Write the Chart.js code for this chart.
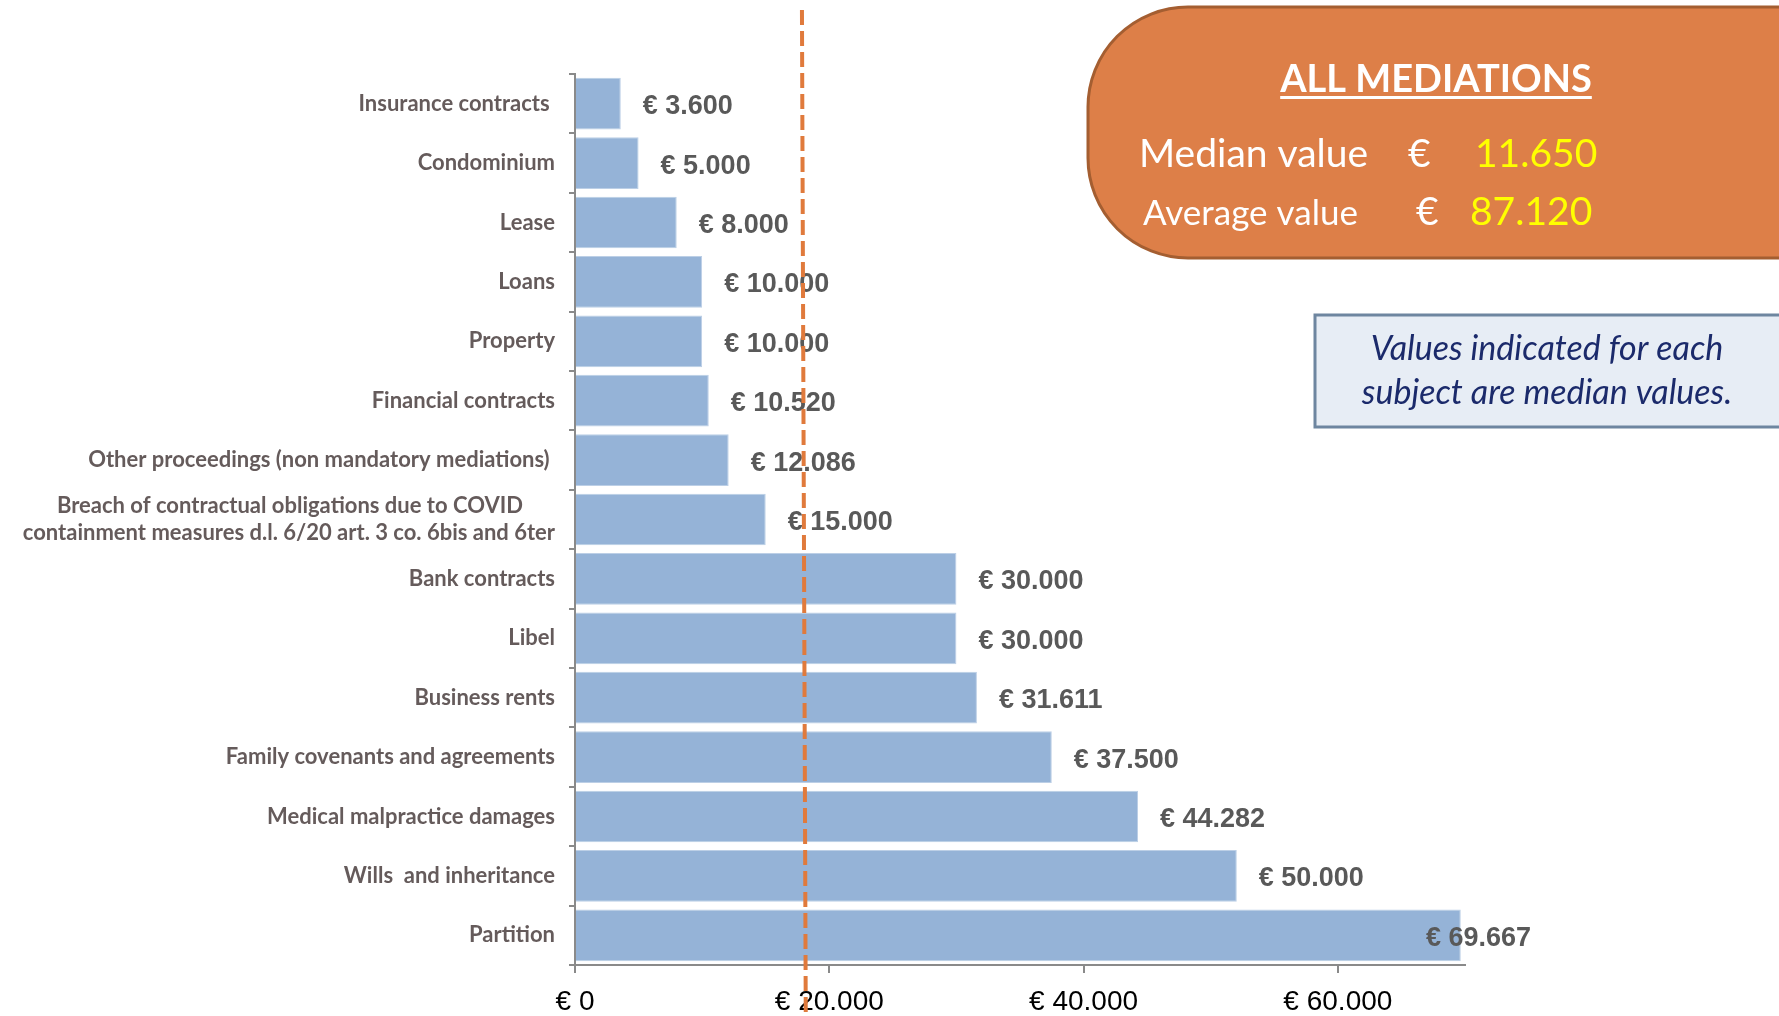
<!DOCTYPE html>
<html><head><meta charset="utf-8">
<script src="https://cdn.jsdelivr.net/npm/chart.js@4"></script>
<style>html,body{margin:0;padding:0;background:#fff;overflow:hidden}#wrap{width:1779px;height:1016px;position:relative}</style>
</head><body><div id="wrap"><canvas id="c" width="1779" height="1016"></canvas></div>
<script>
// ---- data ----
const categories = [
  'Insurance contracts ',
  'Condominium',
  'Lease',
  'Loans',
  'Property',
  'Financial contracts',
  'Other proceedings (non mandatory mediations) ',
  ['Breach of contractual obligations due to COVID', 'containment measures d.l. 6/20 art. 3 co. 6bis and 6ter'],
  'Bank contracts',
  'Libel',
  'Business rents',
  'Family covenants and agreements',
  'Medical malpractice damages',
  'Wills  and inheritance',
  'Partition'
];
// values printed on the bars
const labelValues = [3600, 5000, 8000, 10000, 10000, 10520, 12086, 15000, 30000, 30000, 31611, 37500, 44282, 50000, 69667];
// bar lengths as drawn in the picture (the "Wills" bar is drawn longer than its label)
const barValues = [3600, 5000, 8000, 10000, 10000, 10520, 12086, 15000, 30000, 30000, 31611, 37500, 44282, 52050, 69667];
const xTickValues = [0, 20000, 40000, 60000];
const xMax = 70000;
const refLineValues = [17850, 18150]; // dashed reference line: value at top, value at bottom
const summaryTitle = 'ALL MEDIATIONS';
const summaryLabels = ['Median value', 'Average value'];
const summaryValues = ['11.650', '87.120'];
const noteLines = ['Values indicated for each', 'subject are median values.'];

// ---- helpers ----
function fmt(v){ return '€ ' + String(Math.round(v)).replace(/\B(?=(\d{3})+(?!\d))/g, '.'); }
const LABEL_FONT = 'bold 22px Lato';
const mctx = document.createElement('canvas').getContext('2d');
mctx.font = LABEL_FONT;
// center lines of multi-line labels under right alignment by padding with spaces
const yLabels = categories.map(l => {
  if (!Array.isArray(l)) return l;
  const ws = l.map(s => mctx.measureText(s).width);
  const W = Math.max(...ws);
  const sp = mctx.measureText(' ').width;
  return l.map((s, i) => s + ' '.repeat(Math.round(((W - ws[i]) / 2) / sp)));
});

const extras = {
  id: 'extras',
  afterDatasetsDraw(chart){
    const ctx = chart.ctx;
    const meta = chart.getDatasetMeta(0);
    ctx.save();
    ctx.font = 'bold 27px "Liberation Sans", Arial, sans-serif';
    ctx.fillStyle = '#595959';
    ctx.textBaseline = 'middle';
    ctx.textAlign = 'left';
    const limit = chart.chartArea.right + 66;
    meta.data.forEach((bar, i) => {
      const t = fmt(labelValues[i]);
      const w = ctx.measureText(t).width;
      let x = bar.x + 22;
      if (x + w > limit) x = limit - w;
      ctx.fillText(t, x, bar.y + 3);
    });
    ctx.restore();
  },
  afterDraw(chart){
    const ctx = chart.ctx;
    const xs = chart.scales.x;
    ctx.save();
    // dashed reference line
    ctx.strokeStyle = '#e07a3c';
    ctx.lineWidth = 4;
    ctx.setLineDash([15, 6]);
    ctx.beginPath();
    ctx.moveTo(xs.getPixelForValue(refLineValues[0]), 10);
    ctx.lineTo(xs.getPixelForValue(refLineValues[1]), 1016);
    ctx.stroke();
    ctx.setLineDash([]);

    // orange summary box
    const bx = 1088, by = 7, bb = 258, r = 100, br = 1800;
    ctx.beginPath();
    ctx.moveTo(br, by);
    ctx.lineTo(bx + r, by);
    ctx.arcTo(bx, by, bx, by + r, r);
    ctx.lineTo(bx, bb - r);
    ctx.arcTo(bx, bb, bx + r, bb, r);
    ctx.lineTo(br, bb);
    ctx.closePath();
    ctx.fillStyle = '#dd7f48';
    ctx.fill();
    ctx.strokeStyle = '#a45e31';
    ctx.lineWidth = 3;
    ctx.stroke();

    ctx.fillStyle = '#ffffff';
    ctx.textBaseline = 'alphabetic';
    ctx.textAlign = 'center';
    ctx.font = 'bold 38px Lato';
    ctx.fillText(summaryTitle, 1436, 92);
    const tw = ctx.measureText(summaryTitle).width;
    ctx.fillRect(1436 - tw / 2, 96, tw, 3);

    ctx.textAlign = 'left';
    const rows = [{y:167, lx:1139, ex:1408, vx:1475, fs:39}, {y:225, lx:1143, ex:1416, vx:1470, fs:35}];
    rows.forEach((rw, i) => {
      ctx.font = rw.fs + 'px Lato';
      ctx.fillStyle = '#ffffff';
      ctx.fillText(summaryLabels[i], rw.lx, rw.y);
      ctx.font = '39px Lato';
      ctx.fillText('€', rw.ex, rw.y);
      ctx.fillStyle = '#ffff00';
      ctx.fillText(summaryValues[i], rw.vx, rw.y);
    });

    // note box
    ctx.fillStyle = '#e7edf5';
    ctx.fillRect(1315, 315, 470, 112);
    ctx.strokeStyle = '#6e86a0';
    ctx.lineWidth = 3;
    ctx.strokeRect(1315, 315, 470, 112);
    ctx.fillStyle = '#1b2a6b';
    ctx.textAlign = 'center';
    ctx.font = 'italic 34px Lato';
    ctx.fillText(noteLines[0], 1547, 360);
    ctx.fillText(noteLines[1], 1547, 404);
    ctx.restore();
  }
};

new Chart(document.getElementById('c').getContext('2d'), {
  type: 'bar',
  data: {
    labels: yLabels,
    datasets: [{
      data: barValues,
      backgroundColor: '#95b3d7',
      borderColor: '#bccfe6',
      borderWidth: 1,
      barPercentage: 0.87,
      categoryPercentage: 1
    }]
  },
  options: {
    responsive: false,
    animation: false,
    indexAxis: 'y',
    layout: { padding: { left: 0, right: 314, top: 74, bottom: 0 } },
    plugins: { legend: { display: false }, tooltip: { enabled: false } },
    scales: {
      x: {
        min: 0, max: xMax,
        afterBuildTicks: s => { s.ticks = xTickValues.map(v => ({ value: v })); },
        ticks: { callback: v => fmt(v), font: { family: '"Liberation Sans", Arial, sans-serif', size: 28 }, color: '#000000', padding: 12, maxRotation: 0, autoSkip: false },
        grid: { drawOnChartArea: false, drawTicks: true, tickLength: 8, color: '#8a8a8a', lineWidth: 2 },
        border: { display: true, color: '#8a8a8a', width: 2 },
        afterFit: s => { s.height = 51; }
      },
      y: {
        ticks: { font: { family: 'Lato', weight: 'bold', size: 22 }, color: '#655b5b', padding: 14, autoSkip: false, lineHeight: 1.2 },
        grid: { drawOnChartArea: false, drawTicks: true, tickLength: 6, color: '#8a8a8a', lineWidth: 2, offset: true },
        border: { display: true, color: '#8a8a8a', width: 2 },
        afterFit: s => { s.width = 575; }
      }
    }
  },
  plugins: [extras]
});
</script>
</body></html>
